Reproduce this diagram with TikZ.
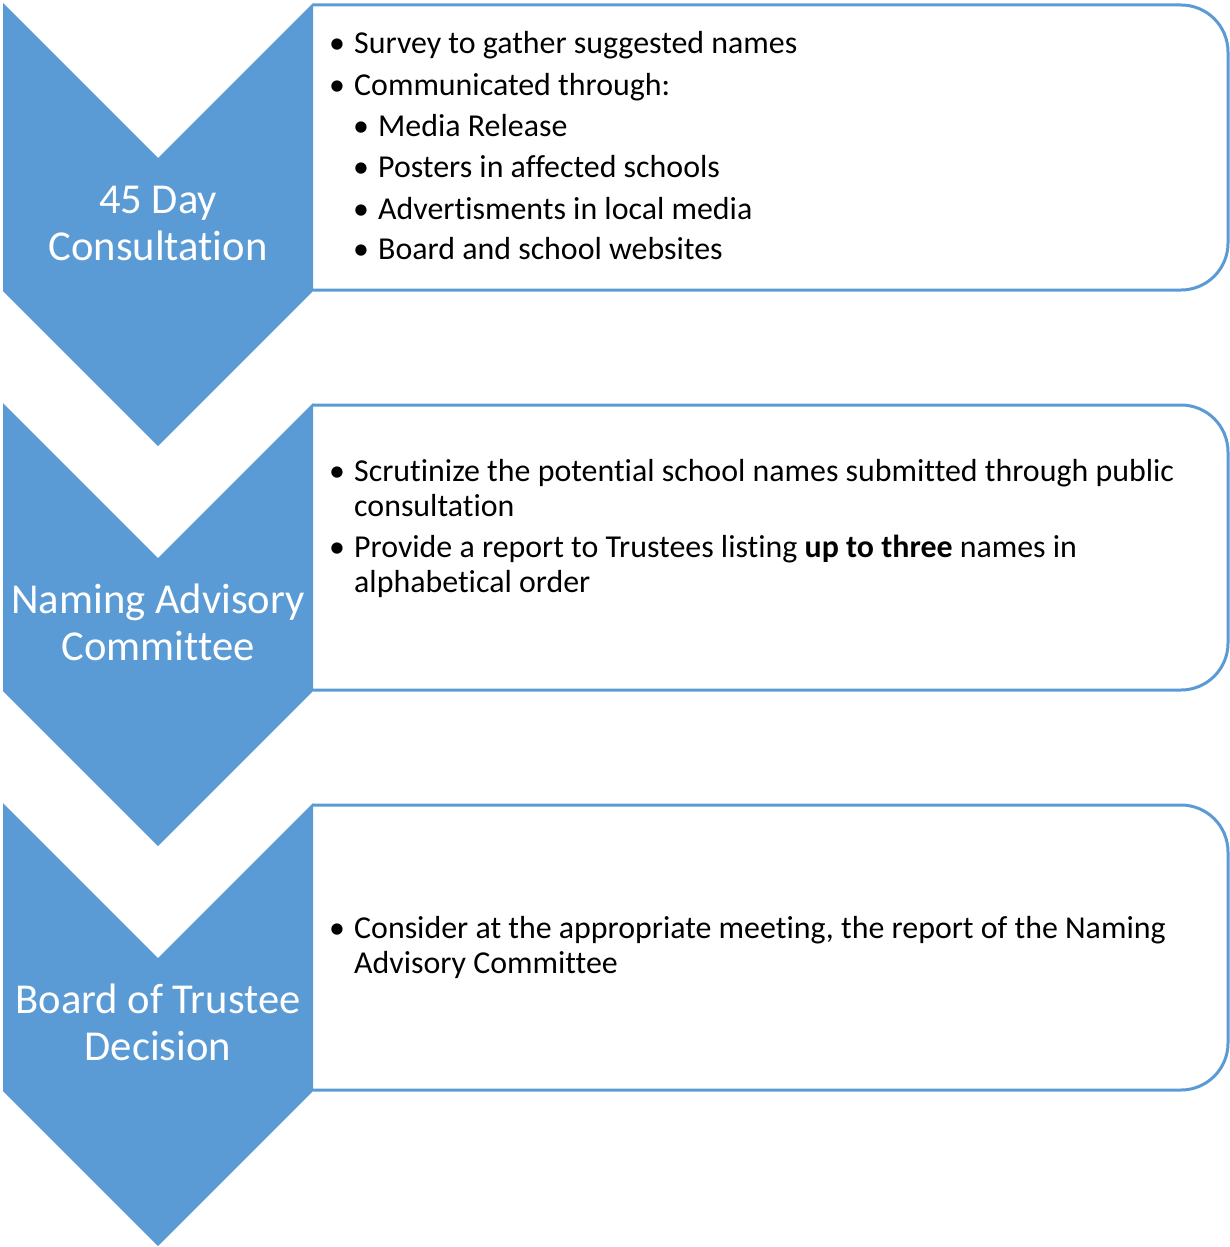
\documentclass[tikz,border=0pt]{standalone}
\usepackage{fontspec}
\setmainfont{Carlito}[Ligatures={NoCommon,NoRare,NoContextual}]
\definecolor{chev}{HTML}{5B9BD5}
\tikzset{
  x=1pt,y=-1pt,
  chevshape/.style={fill=chev,draw=none},
  boxshape/.style={draw=chev,line width=3pt,rounded corners=47pt,fill=white},
  chevtext/.style={text=white,font=\fontsize{42.6}{47}\selectfont,inner sep=0pt,anchor=base},
  bodytext/.style={text=black,font=\fontsize{31.9}{35}\selectfont,inner sep=0pt,anchor=base west},
}
\begin{document}
\begin{tikzpicture}
\useasboundingbox (0,0) rectangle (1230,1247);
% boxes
\foreach \t/\n in {0/1,400/2,800/3}{
  \draw[boxshape] (313,\t+5) -- (1228,\t+5) -- (1228,\t+290) -- (313,\t+290);
}
% chevrons
\foreach \t/\n in {3/1,403/2,803/3}{
  \fill[chevshape] (3,\t) -- (158,\t+155) -- (313,\t) -- (313,\t+288) -- (158,\t+443) -- (3,\t+288) -- cycle;
}
% chevron labels
\node[chevtext] (c1a) at (158,213) {45 Day};
\node[chevtext] (c1b) at (158,260) {Consultation};
\node[chevtext] (c2a) at (158,613) {Naming Advisory};
\node[chevtext] (c2b) at (158,660) {Committee};
\node[chevtext] (c3a) at (158,1013) {Board of Trustee};
\node[chevtext] (c3b) at (158,1060) {Decision};
% box 1
\node[bodytext] (b1) at (329,54) {•};
\node[bodytext] (t1) at (354,54) {Survey to gather suggested names};
\node[bodytext] (b2) at (329,95) {•};
\node[bodytext] (t2) at (354,95) {Communicated through:};
\node[bodytext] (b3) at (353,136) {•};
\node[bodytext] (t3) at (378,136) {Media Release};
\node[bodytext] (b4) at (353,177) {•};
\node[bodytext] (t4) at (378,177) {Posters in affected schools};
\node[bodytext] (b5) at (353,219) {•};
\node[bodytext] (t5) at (378,219) {Advertisments in local media};
\node[bodytext] (b6) at (353,259) {•};
\node[bodytext] (t6) at (378,259) {Board and school websites};
% box 2
\node[bodytext] (b7) at (329,481) {•};
\node[bodytext] (t7) at (354,481) {Scrutinize the potential school names submitted through public};
\node[bodytext] (t7b) at (354,516) {consultation};
\node[bodytext] (b8) at (329,557) {•};
\node[bodytext] (t8) at (354,557) {Provide a report to Trustees listing \textbf{up to three} names in};
\node[bodytext] (t8b) at (354,592) {alphabetical order};
% box 3
\node[bodytext] (b9) at (329,938) {•};
\node[bodytext] (t9) at (354,938) {Consider at the appropriate meeting, the report of the Naming};
\node[bodytext] (t9b) at (354,973) {Advisory Committee};
\end{tikzpicture}
\end{document}
